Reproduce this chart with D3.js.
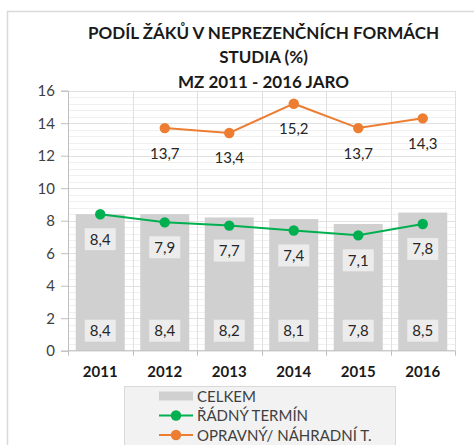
<!DOCTYPE html>
<html>
<head>
<meta charset="utf-8">
<script src="https://d3js.org/d3.v7.min.js"></script>
<style>
  body { margin: 0; background: #fff; }
  text { font-family: Lato, "Noto Sans", sans-serif; }
</style>
</head>
<body>
<script>

// data
var years = ["2011", "2012", "2013", "2014", "2015", "2016"];
var celkem = [8.4, 8.4, 8.2, 8.1, 7.8, 8.5];
var radny = [8.4, 7.9, 7.7, 7.4, 7.1, 7.8];
var opravny = [null, 13.7, 13.4, 15.2, 13.7, 14.3];
var yTicks = [0, 2, 4, 6, 8, 10, 12, 14, 16];
var titleLines = ["PODÍL ŽÁKŮ V NEPREZENČNÍCH FORMÁCH", "STUDIA (%)", "MZ 2011 - 2016 JARO"];
var legendNames = ["CELKEM", "ŘÁDNÝ TERMÍN", "OPRAVNÝ/ NÁHRADNÍ T."];

var width = 474, height = 445;
var plotL = 68, plotR = 455, plotT = 90.7, plotB = 350.7;
var green = "#00b050", orange = "#ed7d31", barGray = "#d0d0d0";

var fmt = function(v) { return d3.format(".1f")(v).replace(".", ","); };

var svg = d3.select("body").append("svg").attr("width", width).attr("height", height);

// outer frame
svg.append("rect").attr("x", 7.5).attr("y", 11.5).attr("width", 480).attr("height", 450)
  .attr("fill", "#fff").attr("stroke", "#d9d9d9").attr("stroke-width", 1.5);

var x = d3.scaleBand().domain(years).range([plotL, plotR]).paddingInner(0.24).paddingOuter(0.12);
var y = d3.scaleLinear().domain([0, 16]).range([plotB, plotT]);
var step = x.step();

// minor grid
var minor = d3.range(0, 16.01, 0.4);
svg.append("g").selectAll("line").data(minor).enter().append("line")
  .attr("x1", plotL).attr("x2", plotR)
  .attr("y1", function(d) { return Math.round(y(d)) + 0.5; })
  .attr("y2", function(d) { return Math.round(y(d)) + 0.5; })
  .attr("stroke", "#f0f0f0");

// major grid
svg.append("g").selectAll("line").data(yTicks.slice(1)).enter().append("line")
  .attr("x1", plotL).attr("x2", plotR)
  .attr("y1", function(d) { return Math.round(y(d)) + 0.5; })
  .attr("y2", function(d) { return Math.round(y(d)) + 0.5; })
  .attr("stroke", "#e0e0e0");

// vertical grid at category boundaries
svg.append("g").selectAll("line").data(years.map(function(d, i) { return i + 1; })).enter().append("line")
  .attr("x1", function(i) { return Math.round(plotL + i * step) + 0.5; })
  .attr("x2", function(i) { return Math.round(plotL + i * step) + 0.5; })
  .attr("y1", plotT).attr("y2", plotB)
  .attr("stroke", "#e0e0e0");

// bars
svg.append("g").selectAll("rect").data(celkem).enter().append("rect")
  .attr("x", function(d, i) { return x(years[i]); })
  .attr("width", x.bandwidth())
  .attr("y", function(d) { return y(d); })
  .attr("height", function(d) { return plotB - y(d); })
  .attr("fill", barGray);

// axes
var yAxis = svg.append("g").attr("transform", "translate(" + plotL + ",0)")
  .call(d3.axisLeft(y).tickValues(yTicks).tickSize(7).tickPadding(6).tickFormat(d3.format("d")));
yAxis.select(".domain").attr("stroke", "#bfbfbf");
yAxis.selectAll(".tick line").attr("stroke", "#bfbfbf");
yAxis.selectAll(".tick text").attr("fill", "#404040").style("font-size", "15px");

var xl = svg.append("g");
xl.append("line").attr("x1", plotL).attr("x2", plotR).attr("y1", plotB).attr("y2", plotB).attr("stroke", "#bfbfbf");
xl.selectAll(".tk").data(d3.range(0, 7)).enter().append("line")
  .attr("x1", function(i) { return Math.round(plotL + i * step) + 0.5; })
  .attr("x2", function(i) { return Math.round(plotL + i * step) + 0.5; })
  .attr("y1", plotB).attr("y2", plotB + 5).attr("stroke", "#bfbfbf");
xl.selectAll("text").data(years).enter().append("text")
  .attr("x", function(d) { return x(d) + x.bandwidth() / 2; })
  .attr("y", 377).attr("text-anchor", "middle")
  .attr("fill", "#1a1a1a").style("font-size", "15px").style("font-weight", "bold")
  .text(function(d) { return d; });

// label with box
function boxLabel(g, cx, cy, txt) {
  g.append("rect").attr("x", cx - 15.5).attr("y", cy - 11).attr("width", 31).attr("height", 22).attr("fill", "#ececec");
  g.append("text").attr("x", cx).attr("y", cy + 5.5).attr("text-anchor", "middle")
    .attr("fill", "#262626").style("font-size", "15px").text(txt);
}

var barLabels = svg.append("g");
celkem.forEach(function(v, i) {
  boxLabel(barLabels, x(years[i]) + x.bandwidth() / 2, plotB - 20, fmt(v));
});

// lines
var line = d3.line()
  .defined(function(d) { return d != null; })
  .x(function(d, i) { return x(years[i]) + x.bandwidth() / 2; })
  .y(function(d) { return y(d); });

function drawSeries(vals, color, boxed) {
  var g = svg.append("g");
  g.append("path").datum(vals).attr("d", line).attr("fill", "none").attr("stroke", color).attr("stroke-width", 2);
  vals.forEach(function(v, i) {
    if (v == null) return;
    var cx = x(years[i]) + x.bandwidth() / 2;
    g.append("circle").attr("cx", cx).attr("cy", y(v)).attr("r", 5.2).attr("fill", color);
  });
  vals.forEach(function(v, i) {
    if (v == null) return;
    var cx = x(years[i]) + x.bandwidth() / 2;
    if (boxed) boxLabel(g, cx, y(v) + 25, fmt(v));
    else g.append("text").attr("x", cx).attr("y", y(v) + 30.5).attr("text-anchor", "middle")
      .attr("fill", "#262626").style("font-size", "15px").text(fmt(v));
  });
}
drawSeries(radny, green, true);
drawSeries(opravny, orange, false);

// title
var title = svg.append("g");
title.selectAll("text").data(titleLines).enter().append("text")
  .attr("x", 263.5).attr("y", function(d, i) { return 38.5 + i * 24.5; })
  .attr("text-anchor", "middle").attr("fill", "#1a1a1a")
  .style("font-size", "17px").style("font-weight", "bold")
  .text(function(d) { return d; });

// legend
var lg = svg.append("g");
lg.append("rect").attr("x", 124.5).attr("y", 386.5).attr("width", 271).attr("height", 80)
  .attr("fill", "#f2f2f2").attr("stroke", "#d9d9d9");
legendNames.forEach(function(n, i) {
  var cy = 396 + i * 19.5;
  if (i === 0) {
    lg.append("rect").attr("x", 159).attr("y", cy - 4.5).attr("width", 34).attr("height", 9).attr("fill", barGray);
  } else {
    var c = i === 1 ? green : orange;
    lg.append("line").attr("x1", 159).attr("x2", 193).attr("y1", cy).attr("y2", cy).attr("stroke", c).attr("stroke-width", 2);
    lg.append("circle").attr("cx", 176).attr("cy", cy).attr("r", 5.2).attr("fill", c);
  }
  lg.append("text").attr("x", 197).attr("y", cy + 5.5).attr("fill", "#404040").style("font-size", "15px").text(n);
});

</script>
</body>
</html>
